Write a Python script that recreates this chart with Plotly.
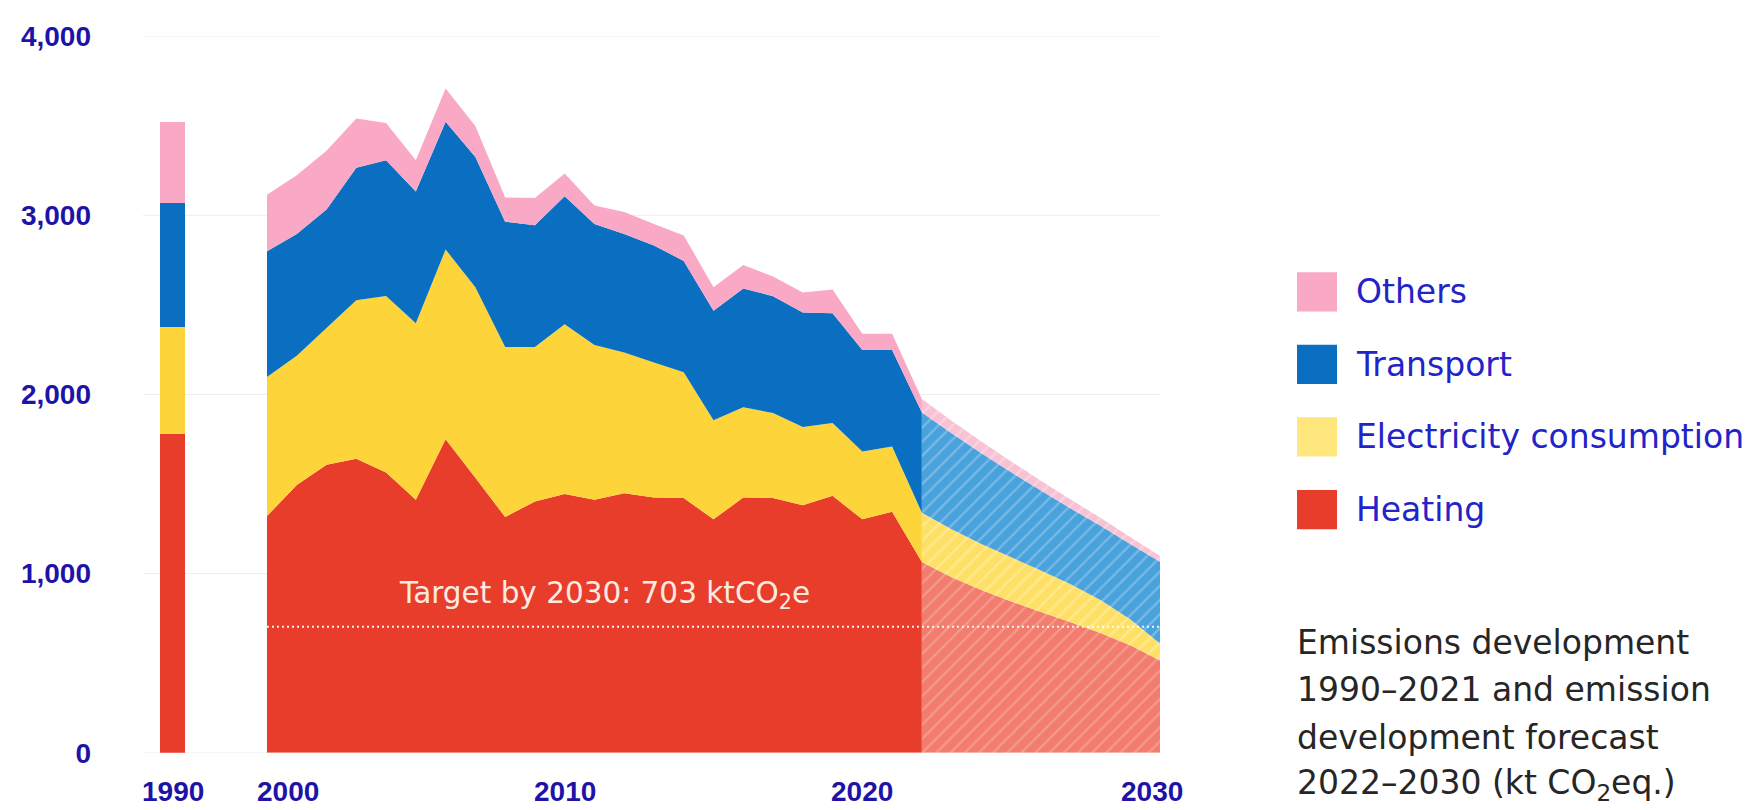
import plotly.graph_objects as go

W = 1757
H_FIG = 828  # figure height; the returned picture maps figure y -> 0.8 + 0.9814*y

# ---------------- data ----------------
bar_year = ["1990"]
heating_1990 = [1780]
electricity_1990 = [595]
transport_1990 = [695]
others_1990 = [450]

years_hist = list(range(2000, 2023))
heating_hist = [1321, 1495, 1608, 1641, 1564, 1413, 1750, 1535, 1316, 1403, 1444, 1413,
                1449, 1425, 1422, 1303, 1425, 1422, 1381, 1434, 1303, 1345, 1065]
electricity_hist = [776, 721, 763, 885, 986, 985, 1059, 1064, 949, 862, 948, 863,
                    785, 754, 702, 553, 504, 474, 438, 407, 378, 365, 275]
transport_hist = [702, 680, 662, 740, 757, 735, 713, 726, 699, 680, 714, 675,
                  662, 653, 621, 611, 662, 653, 639, 612, 567, 538, 560]
others_hist = [316, 328, 328, 274, 209, 174, 186, 173, 136, 152, 128, 104,
               122, 119, 142, 132, 132, 110, 111, 133, 91, 91, 75]

years_fc = list(range(2022, 2031))
heating_fc = [1065, 980, 908, 845, 786, 728, 668, 600, 515]
electricity_fc = [275, 268, 258, 246, 232, 212, 185, 145, 95]
transport_fc = [560, 535, 506, 475, 446, 424, 414, 420, 456]
others_fc = [75, 70, 65, 60, 55, 50, 45, 40, 32]

target_value = 703
target_years = [2000, 2030]

series_names = ["Others", "Transport", "Electricity consumption", "Heating"]
y_ticks = [0, 1000, 2000, 3000, 4000]
x_label_years = [2000, 2010, 2020, 2030]

# ---------------- styles ----------------
C_RED, C_YEL, C_BLUE, C_PINK = "#E83D2A", "#FDD53B", "#0A6FC0", "#F9A8C6"
FC = {
    "Heating": ("#F27C6D", "#F9B7AE"),
    "Electricity consumption": ("#FFE067", "#FFF1B5"),
    "Transport": ("#4AA2DC", "#A3D1F1"),
    "Others": ("#F8C2D5", "#FDE3EC"),
}
AXIS_COL = "#1D13A8"
LEG_COL = "#2323C8"
AX_FONT = dict(family="Liberation Sans", size=28, color=AXIS_COL, weight="bold")


def px(x):
    return x / W


def py(s):
    # s: vertical position on the 1757x810 picture
    fy = (s - 0.8) / 0.9814
    return 1 - fy / H_FIG


fig = go.Figure()

# 1990 stacked bar
for name, vals, col in [("Heating", heating_1990, C_RED),
                        ("Electricity consumption", electricity_1990, C_YEL),
                        ("Transport", transport_1990, C_BLUE),
                        ("Others", others_1990, C_PINK)]:
    fig.add_trace(go.Bar(x=bar_year, y=vals, width=1, marker=dict(color=col, line=dict(width=0)),
                         name=name, xaxis="x", yaxis="y", showlegend=False))

# historical stacked area
for name, vals, col in [("Heating", heating_hist, C_RED),
                        ("Electricity consumption", electricity_hist, C_YEL),
                        ("Transport", transport_hist, C_BLUE),
                        ("Others", others_hist, C_PINK)]:
    fig.add_trace(go.Scatter(x=years_hist, y=vals, stackgroup="hist", mode="none",
                             fillcolor=col, name=name, xaxis="x2", yaxis="y",
                             showlegend=False))

# forecast stacked area (hatched)
for name, vals in [("Heating", heating_fc), ("Electricity consumption", electricity_fc),
                   ("Transport", transport_fc), ("Others", others_fc)]:
    bg, fg = FC[name]
    fig.add_trace(go.Scatter(x=years_fc, y=vals, stackgroup="fc", mode="none",
                             fillcolor=bg,
                             fillpattern=dict(shape="/", bgcolor=bg, fgcolor=fg,
                                              size=10, solidity=0.22),
                             name=name + " (forecast)", xaxis="x2", yaxis="y",
                             showlegend=False))

# target line
fig.add_trace(go.Scatter(x=target_years, y=[target_value] * 2, mode="lines",
                         line=dict(color="rgba(255,255,255,0.9)", width=2, dash="2px,3px"),
                         xaxis="x2", yaxis="y", showlegend=False, hoverinfo="skip"))

shapes = []
for v in y_ticks:
    shapes.append(dict(type="line", xref="paper", yref="y", x0=px(143), x1=px(1160),
                       y0=v, y1=v, line=dict(color="#EDEDED", width=1), layer="below"))

annotations = []
annotations.append(dict(x=0.5, xref="x domain", y=py(792), yref="paper", text=bar_year[0],
                        showarrow=False, font=AX_FONT, xanchor="center", yanchor="middle"))
for yr in x_label_years:
    first = yr == x_label_years[0]
    last = yr == x_label_years[-1]
    annotations.append(dict(x=yr, xref="x2", y=py(792), yref="paper", text=str(yr),
                            showarrow=False, font=AX_FONT,
                            xanchor="left" if first else "center",
                            xshift=-12 if first else (-8 if last else 0),
                            yanchor="middle"))

annotations.append(dict(x=px(604), xref="paper", y=target_value, yref="y",
                        text="Target by 2030: %d ktCO<sub>2</sub>e" % target_value,
                        showarrow=False, xanchor="center", yanchor="bottom", yshift=11,
                        font=dict(family="DejaVu Sans", size=29.5, color="#FCEBE1")))

leg_cols = {"Others": C_PINK, "Transport": C_BLUE,
            "Electricity consumption": "#FFE77E", "Heating": C_RED}
for i, name in enumerate(series_names):
    cy = 283 + i * 74
    shapes.append(dict(type="rect", xref="paper", yref="paper",
                       x0=px(1297), x1=px(1337), y0=py(cy + 20), y1=py(cy - 20),
                       fillcolor=leg_cols[name], line=dict(width=0)))
    annotations.append(dict(x=px(1354), xref="paper", y=py(cy), yref="paper", text=name,
                            showarrow=False, xanchor="left", yanchor="middle",
                            font=dict(family="DejaVu Sans", size=33, color=LEG_COL)))

desc_lines = ["Emissions development", "1990–2021 and emission",
              "development forecast", "2022–2030 (kt CO<sub>2</sub>eq.)"]
for i, line in enumerate(desc_lines):
    annotations.append(dict(x=px(1295), xref="paper", y=py(641 + i * 48), yref="paper",
                            text=line, showarrow=False, xanchor="left", yanchor="middle",
                            font=dict(family="DejaVu Sans", size=33, color="#262626")))

fig.update_layout(
    width=W, height=H_FIG,
    margin=dict(l=0, r=0, t=0, b=0),
    paper_bgcolor="white", plot_bgcolor="rgba(0,0,0,0)",
    barmode="stack", bargap=0,
    xaxis=dict(domain=[px(160), px(185)], type="category", range=[-0.5, 0.5],
               showticklabels=False, showgrid=False, zeroline=False, showline=False),
    xaxis2=dict(domain=[px(267), px(1160)], range=[2000, 2030], anchor="y",
                showticklabels=False, showgrid=False, zeroline=False, showline=False),
    yaxis=dict(domain=[py(753), py(22.4)], range=[0, 4000], tickvals=y_ticks,
               tickformat=",", anchor="free", position=px(91), showgrid=False,
               zeroline=False, showline=False, ticks="", tickfont=AX_FONT),
    shapes=shapes, annotations=annotations, showlegend=False,
)

page_fix = (
    "document.body.style.margin='0px';"
    "document.documentElement.style.overflow='hidden';"
    "document.body.style.overflow='hidden';"
)
fig.write_html("out.html", config={"displayModeBar": False}, post_script=page_fix)
